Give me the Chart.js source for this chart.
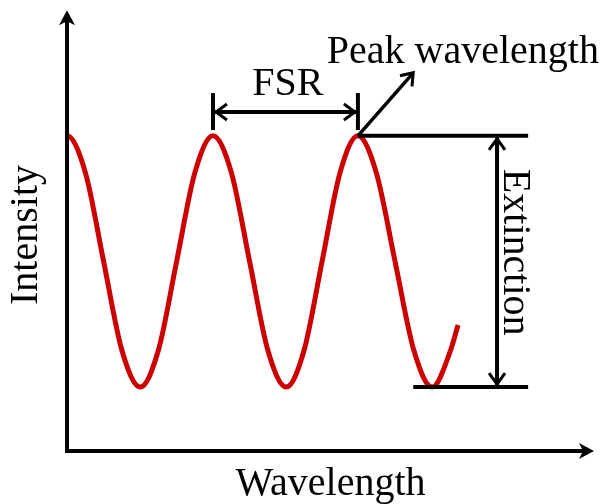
<!DOCTYPE html>
<html><head><meta charset="utf-8">
<script src="https://cdn.jsdelivr.net/npm/chart.js@4.4.1/dist/chart.umd.min.js"></script>
<style>html,body{margin:0;padding:0;background:#fff;}canvas{display:block;}</style>
</head><body>
<canvas id="c" width="604" height="504"></canvas>
<script>
// ---- data (arbitrary units) ----
const wavelength = [-3.5, 0, 3.5, 6.95, 10.4, 13.9, 17.35, 20.8, 24.25, 27.7, 31.2, 34.65, 38.1, 41.6, 45.0, 48.4, 51.8, 55.2, 58.7, 62.25, 65.8, 69.3, 72.8, 74.2];
const intensity  = [63.1, 71.5, 63.1, 43.0, 22.9, 14.5, 22.9, 43.0, 63.1, 71.5, 63.1, 43.0, 22.9, 14.5, 22.9, 43.0, 63.1, 71.5, 63.1, 43.0, 22.9, 14.5, 22.9, 28.6];
const axisTitles = ['Wavelength', 'Intensity'];
const labels = ['FSR', 'Peak wavelength', 'Extinction'];
// annotation anchors (data units)
const fsrPeaks = [27.7, 55.2];
const fsrLevel = 76.9;
const fsrTick = [72.8, 81.2];
const peakPoint = [55.2, 71.5];
const peakArrowTip = [65.7, 85.8];
const extinctionLevels = [71.5, 14.5];
const extinctionX = 81.6;
const extinctionTopSpan = [55.2, 87.5];
const extinctionBottomSpan = [65.7, 87.5];
const labelPos = { fsr: [41.9, 80.8], peak: [49.3, 88.0], ext: [85.0, 45.1] };
const axisEnd = [100, 100];

const RED = '#cc0000';
const FONT = "'Liberation Serif', 'Times New Roman', serif";

function chevron(ctx, tx, ty, ang, len, half) {
  const c = Math.cos(ang), s = Math.sin(ang);
  const bx = tx - len * c, by = ty - len * s;
  ctx.beginPath();
  ctx.moveTo(bx - half * s, by + half * c);
  ctx.lineTo(tx, ty);
  ctx.lineTo(bx + half * s, by - half * c);
  ctx.stroke();
}
function stealth(ctx, tx, ty, ang, len, half, notch) {
  const c = Math.cos(ang), s = Math.sin(ang);
  const bx = tx - len * c, by = ty - len * s;
  const nx = tx - (len - notch) * c, ny = ty - (len - notch) * s;
  ctx.beginPath();
  ctx.moveTo(tx, ty);
  ctx.lineTo(bx - half * s, by + half * c);
  ctx.lineTo(nx, ny);
  ctx.lineTo(bx + half * s, by - half * c);
  ctx.closePath();
  ctx.fill();
}
function seg(ctx, x1, y1, x2, y2) {
  ctx.beginPath(); ctx.moveTo(x1, y1); ctx.lineTo(x2, y2); ctx.stroke();
}

const annot = {
  id: 'annot',
  afterDatasetsDraw(chart) {
    const { ctx, scales: { x, y } } = chart;
    const X = v => x.getPixelForValue(v), Y = v => y.getPixelForValue(v);
    ctx.save();
    ctx.strokeStyle = '#000'; ctx.fillStyle = '#000';
    ctx.lineCap = 'butt'; ctx.lineJoin = 'miter';
    // axes
    const ox = X(0), oy = Y(0);
    ctx.lineWidth = 4;
    seg(ctx, ox, oy + 2, ox, Y(axisEnd[1]) + 10);
    seg(ctx, ox - 2, oy, X(axisEnd[0]) - 10, oy);
    stealth(ctx, ox, Y(axisEnd[1]), -Math.PI / 2, 15, 8, 4);
    stealth(ctx, X(axisEnd[0]), oy, 0, 15, 8, 4);

    // FSR
    const fx1 = X(fsrPeaks[0]), fx2 = X(fsrPeaks[1]), fy = Y(fsrLevel);
    ctx.lineWidth = 4;
    seg(ctx, fx1, Y(fsrTick[0]), fx1, Y(fsrTick[1]));
    seg(ctx, fx2, Y(fsrTick[0]), fx2, Y(fsrTick[1]));
    seg(ctx, fx1 + 2, fy, fx2 - 2, fy);
    ctx.lineWidth = 3;
    chevron(ctx, fx1 + 3, fy, Math.PI, 11, 8);
    chevron(ctx, fx2 - 3, fy, 0, 11, 8);

    // Peak wavelength arrow
    const px1 = X(peakPoint[0]), py1 = Y(peakPoint[1]);
    const px2 = X(peakArrowTip[0]), py2 = Y(peakArrowTip[1]);
    ctx.lineWidth = 3.5;
    seg(ctx, px1, py1, px2, py2);
    ctx.lineWidth = 3;
    chevron(ctx, px2, py2, Math.atan2(py2 - py1, px2 - px1), 11, 8);

    // Extinction
    ctx.lineWidth = 4;
    const ey1 = Y(extinctionLevels[0]), ey2 = Y(extinctionLevels[1]);
    seg(ctx, X(extinctionTopSpan[0]), ey1, X(extinctionTopSpan[1]), ey1);
    seg(ctx, X(extinctionBottomSpan[0]), ey2, X(extinctionBottomSpan[1]), ey2);
    const ex = X(extinctionX);
    seg(ctx, ex, ey1 + 2, ex, ey2 - 2);
    ctx.lineWidth = 3;
    chevron(ctx, ex, ey1 + 3, -Math.PI / 2, 11, 8);
    chevron(ctx, ex, ey2 - 3, Math.PI / 2, 11, 8);

    // labels
    ctx.font = '40px ' + FONT;
    ctx.textBaseline = 'alphabetic';
    ctx.textAlign = 'center';
    ctx.fillText(labels[0], X(labelPos.fsr[0]), Y(labelPos.fsr[1]));
    ctx.textAlign = 'left';
    ctx.fillText(labels[1], X(labelPos.peak[0]), Y(labelPos.peak[1]));
    ctx.save();
    ctx.translate(X(labelPos.ext[0]), Y(labelPos.ext[1]));
    ctx.rotate(Math.PI / 2);
    ctx.textAlign = 'center';
    ctx.textBaseline = 'middle';
    ctx.fillText(labels[2], 0, 0);
    ctx.restore();
    ctx.restore();
  }
};

new Chart(document.getElementById('c'), {
  type: 'line',
  data: {
    datasets: [{
      data: wavelength.map((w, i) => ({ x: w, y: intensity[i] })),
      borderColor: RED,
      borderWidth: 5,
      pointRadius: 0,
      fill: false,
      cubicInterpolationMode: 'monotone',
      clip: { left: 0, top: 5, right: 5, bottom: 5 }
    }]
  },
  options: {
    responsive: false,
    animation: false,
    layout: { padding: { top: 19, right: 10, left: 0, bottom: 0 } },
    plugins: { legend: { display: false }, tooltip: { enabled: false } },
    scales: {
      x: {
        type: 'linear', min: 0, max: 100,
        grid: { display: false, drawTicks: false },
        border: { display: false },
        ticks: { display: false },
        title: { display: true, text: axisTitles[0], color: '#000',
                 font: { family: FONT, size: 40, lineHeight: 1 }, padding: { top: 13, bottom: 0 } }
      },
      y: {
        type: 'linear', min: 0, max: 98,
        grid: { display: false, drawTicks: false },
        border: { display: false },
        ticks: { display: false },
        title: { display: true, text: axisTitles[1], color: '#000',
                 font: { family: FONT, size: 40, lineHeight: 1 }, padding: { top: 6.5, bottom: 20.5 } }
      }
    }
  },
  plugins: [annot]
});
</script>
</body></html>
